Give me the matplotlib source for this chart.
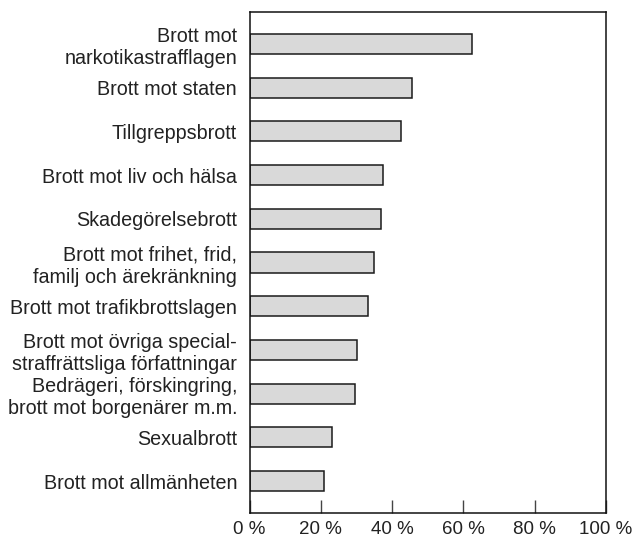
import matplotlib
matplotlib.use("Agg")
import matplotlib.pyplot as plt

categories = [
    "Brott mot\nnarkotikastrafflagen",
    "Brott mot staten",
    "Tillgreppsbrott",
    "Brott mot liv och hälsa",
    "Skadegörelsebrott",
    "Brott mot frihet, frid,\nfamilj och ärekränkning",
    "Brott mot trafikbrottslagen",
    "Brott mot övriga special-\nstraffrättsliga författningar",
    "Bedrägeri, förskingring,\nbrott mot borgenärer m.m.",
    "Sexualbrott",
    "Brott mot allmänheten",
]
values = [62.5, 45.5, 42.4, 37.4, 36.8, 34.9, 33.3, 30.2, 29.6, 23.2, 21.0]
xticks = [0, 20, 40, 60, 80, 100]
xticklabels = ["0 %", "20 %", "40 %", "60 %", "80 %", "100 %"]

plt.rcParams['font.family'] = ['Liberation Sans', 'DejaVu Sans']

fig = plt.figure(figsize=(6.35, 5.39), dpi=100)
ax = fig.add_axes([0.393, 0.0482, 0.561, 0.9295])

ypos = list(range(len(categories)))
ax.barh(ypos, values, height=0.46, color="#d9d9d9", edgecolor="#1a1a1a", linewidth=1.1)

ax.set_xlim(0, 100)
ax.set_ylim(10.73, -0.73)
ax.set_xticks(xticks)
ax.set_xticklabels(xticklabels, fontsize=13.5, color="#222222")
ax.set_yticks(ypos)
ax.set_yticklabels(categories, fontsize=14.2, color="#222222", linespacing=1.2)
ax.tick_params(axis='x', direction='in', length=9.4, width=1.0, color="#444444", pad=6)
ax.tick_params(axis='y', length=0, pad=9)
for lab in ax.get_yticklabels():
    lab.set_horizontalalignment('right')

for s in ax.spines.values():
    s.set_linewidth(1.1)
    s.set_color("#111111")

fig.savefig("out.png", dpi=100)
